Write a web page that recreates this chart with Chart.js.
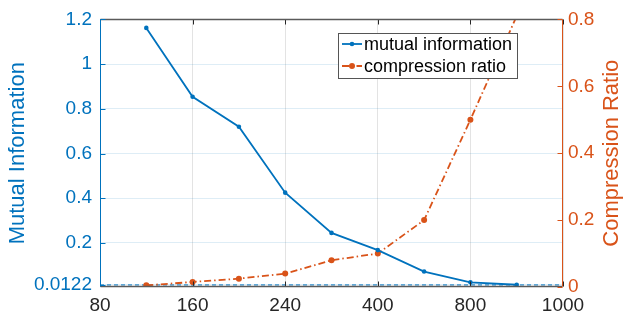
<!DOCTYPE html>
<html lang="en">
<head>
<meta charset="UTF-8">
<title>Mutual Information and Compression Ratio</title>
<script src="https://cdn.jsdelivr.net/npm/chart.js"></script>
<style>
    body { margin: 0; background: #fff; }
    #wrap { width: 623px; height: 320px; }
</style>
</head>
<body>
<div id="wrap"><canvas id="miChart" width="623" height="320"></canvas></div>
<script>
// x tick labels sit on integer positions 0..5, points fall on the half steps
const tickLabels = ['80', '160', '240', '400', '800', '1000'];
const xPos = [0.5, 1, 1.5, 2, 2.5, 3, 3.5, 4, 4.5];
const mutualInfo = [1.162, 0.854, 0.72, 0.425, 0.245, 0.168, 0.072, 0.024, 0.013];
const compression = [0.005, 0.015, 0.025, 0.04, 0.08, 0.1, 0.2, 0.5, 0.81];
const baseline = 0.0122;
const leftTicks = [0.0122, 0.2, 0.4, 0.6, 0.8, 1, 1.2];
const rightTicks = [0, 0.2, 0.4, 0.6, 0.8];

const BLUE = '#0072BD';
const ORANGE = '#D95319';
const DARK = '#262626';
const FONT = "'Liberation Sans', Arial, sans-serif";

const pts = (vals) => vals.map((v, i) => ({ x: xPos[i], y: v }));

// axis frame, inward tick marks, legend box and right-hand title
const framePlugin = {
    id: 'frame',
    afterDatasetsDraw(chart) {
        const { ctx, chartArea: a, scales } = chart;
        const L = Math.round(a.left) + 0.5, R = Math.round(a.right) - 0.5;
        const T = Math.round(a.top) + 0.5, B = Math.round(a.bottom) - 0.5;
        const tl = 5;
        ctx.save();
        ctx.lineWidth = 1;

        // x ticks, top and bottom
        ctx.strokeStyle = DARK;
        ctx.beginPath();
        tickLabels.forEach((_, i) => {
            const x = Math.round(scales.x.getPixelForValue(i)) + 0.5;
            ctx.moveTo(x, B); ctx.lineTo(x, B - tl);
            ctx.moveTo(x, T); ctx.lineTo(x, T + tl);
        });
        ctx.stroke();
        ctx.strokeStyle = '#5a5a5a';
        ctx.lineWidth = 1.6;
        ctx.beginPath();
        ctx.moveTo(L, T); ctx.lineTo(R, T);
        ctx.moveTo(L, B); ctx.lineTo(R, B);
        ctx.stroke();
        ctx.lineWidth = 1;

        // left axis
        ctx.strokeStyle = BLUE;
        ctx.beginPath();
        ctx.moveTo(L, T); ctx.lineTo(L, B);
        leftTicks.forEach(v => {
            const y = Math.round(scales.y.getPixelForValue(v)) + 0.5;
            ctx.moveTo(L, y); ctx.lineTo(L + tl, y);
        });
        ctx.stroke();

        // right axis
        ctx.strokeStyle = ORANGE;
        ctx.beginPath();
        ctx.moveTo(R, T); ctx.lineTo(R, B);
        rightTicks.forEach(v => {
            const y = Math.round(scales.y2.getPixelForValue(v)) + 0.5;
            ctx.moveTo(R, y); ctx.lineTo(R - tl, y);
        });
        ctx.stroke();

        // legend
        const lx = 338.5, ly = 33.5, lw = 179, lh = 45;
        ctx.fillStyle = '#fff';
        ctx.fillRect(lx, ly, lw, lh);
        ctx.strokeStyle = '#555';
        ctx.strokeRect(lx, ly, lw, lh);
        const rows = [0, 1].map(i => chart.data.datasets[i]);
        rows.forEach((ds, i) => {
            const y = 44 + i * 22;
            ctx.strokeStyle = ds.borderColor;
            ctx.lineWidth = ds.borderWidth;
            ctx.setLineDash(ds.borderDash || []);
            ctx.beginPath();
            ctx.moveTo(342, y); ctx.lineTo(362, y);
            ctx.stroke();
            ctx.setLineDash([]);
            ctx.fillStyle = ds.pointBackgroundColor;
            ctx.beginPath();
            ctx.arc(352, y, ds.pointRadius, 0, Math.PI * 2);
            ctx.fill();
            ctx.fillStyle = '#000';
            ctx.font = '18px ' + FONT;
            ctx.textBaseline = 'middle';
            ctx.textAlign = 'left';
            ctx.fillText(ds.label, 364, y + 1);
        });

        // right axis title, reading bottom to top
        ctx.translate(612, (a.top + a.bottom) / 2);
        ctx.rotate(-Math.PI / 2);
        ctx.fillStyle = ORANGE;
        ctx.font = '22px ' + FONT;
        ctx.textAlign = 'center';
        ctx.textBaseline = 'middle';
        ctx.fillText('Compression Ratio', 0, 0);
        ctx.restore();
    }
};

const ctx = document.getElementById('miChart').getContext('2d');
new Chart(ctx, {
    type: 'line',
    data: {
        datasets: [{
            label: 'mutual information',
            data: pts(mutualInfo),
            yAxisID: 'y',
            borderColor: BLUE,
            backgroundColor: BLUE,
            borderWidth: 1.8,
            pointRadius: 2.3,
            pointBackgroundColor: BLUE,
            pointBorderWidth: 0,
            tension: 0,
            clip: 0
        }, {
            label: 'compression ratio',
            data: pts(compression),
            yAxisID: 'y2',
            borderColor: ORANGE,
            backgroundColor: ORANGE,
            borderWidth: 1.8,
            borderDash: [7, 3, 1.5, 3],
            pointRadius: 3,
            pointBackgroundColor: ORANGE,
            pointBorderWidth: 0,
            tension: 0,
            clip: 0
        }, {
            label: 'baseline',
            data: [{ x: 0, y: baseline }, { x: 5, y: baseline }],
            yAxisID: 'y',
            borderColor: BLUE,
            borderWidth: 1,
            borderDash: [4, 3],
            pointRadius: 0,
            clip: 0
        }]
    },
    options: {
        responsive: false,
        animation: false,
        devicePixelRatio: 1,
        layout: { padding: { top: 15, left: 0, right: 0, bottom: 0 } },
        plugins: {
            legend: { display: false },
            tooltip: { enabled: false }
        },
        scales: {
            x: {
                type: 'linear',
                min: 0,
                max: 5,
                afterBuildTicks: s => { s.ticks = tickLabels.map((_, i) => ({ value: i })); },
                afterFit: s => { s.height = 33; },
                ticks: {
                    callback: v => tickLabels[v],
                    color: DARK,
                    font: { family: FONT, size: 19 },
                    padding: 7,
                    maxRotation: 0
                },
                grid: { color: 'rgba(38,38,38,0.13)', drawTicks: false },
                border: { display: false }
            },
            y: {
                position: 'left',
                min: 0.003,
                max: 1.2,
                afterBuildTicks: s => { s.ticks = leftTicks.map(v => ({ value: v })); },
                afterFit: s => { s.width = 100; },
                ticks: {
                    callback: v => String(v),
                    color: BLUE,
                    font: { family: FONT, size: 19 },
                    padding: 8
                },
                grid: { color: 'rgba(0,114,189,0.13)', drawTicks: false },
                border: { display: false },
                title: {
                    display: true,
                    text: 'Mutual Information',
                    color: BLUE,
                    font: { family: FONT, size: 22, lineHeight: 1 },
                    padding: { top: 7, bottom: 0 }
                }
            },
            y2: {
                position: 'right',
                min: 0,
                max: 0.8,
                afterBuildTicks: s => { s.ticks = rightTicks.map(v => ({ value: v })); },
                afterFit: s => { s.width = 60; },
                ticks: {
                    callback: v => String(v),
                    color: ORANGE,
                    font: { family: FONT, size: 19 },
                    padding: 5
                },
                grid: { display: false, drawTicks: false },
                border: { display: false }
            }
        }
    },
    plugins: [framePlugin]
});
</script>
</body>
</html>
